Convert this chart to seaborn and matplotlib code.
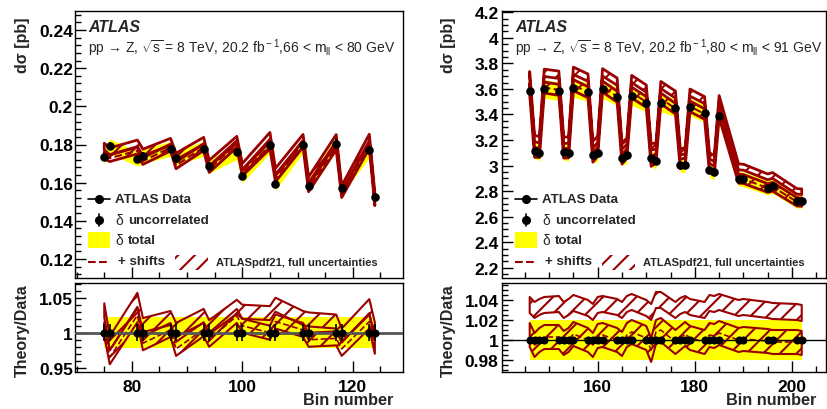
import numpy as np
import matplotlib
matplotlib.use("Agg")
import matplotlib.pyplot as plt
import seaborn as sns
from matplotlib.patches import Rectangle
from matplotlib.ticker import MultipleLocator, FuncFormatter

# ---- left panel: 66 < mll < 80 GeV ----
left_bins = [75, 76, 81, 82, 87, 88, 93, 94, 99, 100, 105, 106, 111, 112, 117, 118, 123, 124]
left_xsec = [0.1734, 0.1791, 0.1725, 0.1739, 0.1777, 0.1730, 0.1777, 0.1687, 0.1760,
             0.1635, 0.1795, 0.1595, 0.1797, 0.1584, 0.1805, 0.1574, 0.1769, 0.1525]
left_r_nom = [1.032, 0.985, 1.047, 1.011, 1.021, 1.004, 1.024, 1.008, 1.037,
              1.030, 1.028, 1.040, 1.021, 1.019, 1.016, 0.996, 1.038, 1.005]
left_r_shift = [1.005, 0.965, 1.025, 0.985, 1.004, 0.977, 1.005, 0.990, 1.024,
                1.010, 1.000, 1.016, 1.004, 0.990, 0.992, 0.977, 1.016, 0.980]
left_unc_tot = 0.022
left_unc_uncor = 0.012
left_th_unc = [0.010, 0.010]

# ---- right panel: 80 < mll < 91 GeV ----
right_bins = [146, 147, 148, 149, 152, 153, 154, 155, 158, 159, 160, 161, 164, 165, 166, 167,
              170, 171, 172, 173, 176, 177, 178, 179, 182, 183, 184, 185, 189, 190, 195, 196, 201, 202]
right_xsec = [3.582, 3.118, 3.100, 3.600, 3.582, 3.105, 3.097, 3.608, 3.574, 3.079, 3.097, 3.600,
              3.540, 3.061, 3.079, 3.543, 3.491, 3.061, 3.032, 3.491, 3.452, 3.006, 3.006, 3.457,
              3.410, 2.967, 2.949, 3.392, 2.897, 2.892, 2.827, 2.840, 2.722, 2.722]
right_r_nom = [1.035, 1.030, 1.033, 1.035, 1.036, 1.030, 1.033, 1.037, 1.032, 1.028, 1.035, 1.036,
               1.033, 1.030, 1.036, 1.038, 1.032, 1.028, 1.040, 1.040, 1.030, 1.034, 1.036, 1.033,
               1.030, 1.037, 1.036, 1.038, 1.032, 1.033, 1.030, 1.029, 1.028, 1.027]
right_r_shift = [1.005, 0.995, 1.000, 1.003, 1.003, 0.997, 1.000, 1.006, 1.000, 0.995, 1.004, 1.005,
                 1.000, 0.996, 1.005, 1.008, 1.002, 0.990, 1.008, 1.010, 0.998, 1.002, 1.006, 1.002,
                 0.998, 1.005, 1.004, 1.007, 1.000, 1.001, 0.999, 0.998, 0.998, 0.997]
right_unc_tot = 0.020
right_unc_uncor = 0.003
right_th_unc = [0.008, 0.012]

DARKRED = "#990000"
W, H = 827, 410

sns.set_theme(style="ticks")
plt.rcParams["font.family"] = ["Liberation Sans", "DejaVu Sans"]
plt.rcParams["mathtext.fontset"] = "custom"
plt.rcParams["mathtext.rm"] = "Liberation Sans"
plt.rcParams["mathtext.it"] = "Liberation Sans:italic"
plt.rcParams["hatch.linewidth"] = 1.5
plt.rcParams["hatch.color"] = DARKRED
plt.rcParams["axes.edgecolor"] = "black"
plt.rcParams["xtick.color"] = "black"
plt.rcParams["ytick.color"] = "black"


def box(x0, y0, x1, y1):
    return [x0 / W, 1 - y1 / H, (x1 - x0) / W, (y1 - y0) / H]


def style_axis(ax, xlim, ylim, ymajor, yminor, label_x, ypad):
    ax.set_xlim(*xlim)
    ax.set_ylim(*ylim)
    ax.xaxis.set_major_locator(MultipleLocator(20))
    ax.xaxis.set_minor_locator(MultipleLocator(5))
    ax.yaxis.set_major_locator(MultipleLocator(ymajor))
    ax.yaxis.set_minor_locator(MultipleLocator(yminor))
    ax.yaxis.set_major_formatter(FuncFormatter(lambda v, p: f"{round(v, 4):g}"))
    ax.tick_params(which="both", direction="in", top=False, right=False, width=1)
    ax.tick_params(which="major", length=8)
    ax.tick_params(which="minor", length=4)
    ax.tick_params(axis="y", pad=ypad, labelsize=12.5)
    ax.tick_params(axis="x", pad=5, labelsize=12.5, labelbottom=label_x)
    for lab in ax.get_yticklabels() + ax.get_xticklabels():
        lab.set_fontweight("bold")
    for s in ax.spines.values():
        s.set_linewidth(1)
        s.set_color("black")
    ax.set_xlabel("")
    ax.set_ylabel("")


def draw_panel(main_box, ratio_box, bins, xsec, r_nom, r_shift, tot, uncor, th_unc,
               xlim, ylim, ymajor, yminor, rlim, rmajor, rminor, ypad, one_style):
    bins = np.array(bins, dtype=float)
    xsec = np.array(xsec)
    r_nom = np.array(r_nom)
    r_shift = np.array(r_shift)

    ax = fig.add_axes(box(*main_box))
    ax.fill_between(bins, xsec * (1 - tot), xsec * (1 + tot), color="#ffff00", lw=0, zorder=1)
    for r, hw in zip([r_nom, r_shift], th_unc):
        ax.fill_between(bins, xsec * (r - hw), xsec * (r + hw), facecolor="none",
                        edgecolor=DARKRED, hatch="//", lw=2, zorder=2)
    ax.plot(bins, xsec * r_shift, color=DARKRED, ls="--", lw=1.5, zorder=3)
    ax.errorbar(bins, xsec, yerr=xsec * uncor, fmt="none", ecolor="black", elinewidth=1.5, zorder=4)
    sns.scatterplot(x=bins, y=xsec, ax=ax, color="black", s=38, edgecolor="black",
                    linewidth=0, zorder=5, legend=False)
    style_axis(ax, xlim, ylim, ymajor, yminor, False, ypad)

    rx = fig.add_axes(box(*ratio_box))
    rx.fill_between(bins, 1 - tot, 1 + tot, color="#ffff00", lw=0, zorder=1)
    for r, hw in zip([r_nom, r_shift], th_unc):
        rx.fill_between(bins, r - hw, r + hw, facecolor="none",
                        edgecolor=DARKRED, hatch="//", lw=1.5, zorder=2)
    rx.plot(bins, r_shift, color=DARKRED, ls="--", lw=1.2, zorder=3)
    rx.axhline(1, zorder=4, **one_style)
    rx.errorbar(bins, np.ones_like(bins), yerr=uncor, xerr=0.5, fmt="none",
                ecolor="black", elinewidth=1.2, zorder=4)
    sns.scatterplot(x=bins, y=np.ones_like(bins), ax=rx, color="black", s=34,
                    edgecolor="black", linewidth=0, zorder=5, legend=False)
    style_axis(rx, xlim, rlim, rmajor, rminor, True, ypad)
    return ax, rx


fig = plt.figure(figsize=(W / 100, H / 100), dpi=100)

draw_panel((75, 12, 403, 279), (75, 284, 403, 373), left_bins, left_xsec, left_r_nom, left_r_shift,
           left_unc_tot, left_unc_uncor, left_th_unc, (69.7, 129.1), (0.11, 0.25), 0.02, 0.004,
           (0.944, 1.071), 0.05, 0.01, 1.5, dict(color="#555555", lw=2))
draw_panel((502, 12, 826, 279), (502, 284, 826, 373), right_bins, right_xsec, right_r_nom, right_r_shift,
           right_unc_tot, right_unc_uncor, right_th_unc, (140.3, 207.0), (2.12, 4.21), 0.2, 0.05,
           (0.968, 1.057), 0.02, 0.005, 2.5, dict(color="black", lw=1))

# overlay in pixel coordinates for texts and legend
ov = fig.add_axes([0, 0, 1, 1])
ov.set_xlim(0, W)
ov.set_ylim(H, 0)
ov.axis("off")
ov.patch.set_alpha(0)

panels = [
    dict(x0=88, ylab_x=22, blab_x=348, mass="66 < m$_{\\rm ll}$ < 80 GeV"),
    dict(x0=515, ylab_x=448, blab_x=771, mass="80 < m$_{\\rm ll}$ < 91 GeV"),
]
for p in panels:
    x0 = p["x0"]
    ov.text(x0, 27, "ATLAS", fontsize=11.5, fontweight="bold", style="italic", va="center")
    ov.text(x0, 48, "pp → Z, $\\sqrt{\\rm s}$ = 8 TeV, 20.2 fb$^{\\rm -1}$," + p["mass"],
            fontsize=10, va="center")
    ov.text(p["ylab_x"], 45, "dσ [pb]", fontsize=11.5, fontweight="bold", rotation=90,
            ha="center", va="center")
    ov.text(p["ylab_x"], 331, "Theory/Data", fontsize=11.5, fontweight="bold", rotation=90,
            ha="center", va="center")
    ov.text(p["blab_x"], 401, "Bin number", fontsize=11.7, fontweight="bold",
            ha="center", va="center")

    # legend
    ov.plot([x0, x0 + 22], [200, 200], color="black", lw=1.2)
    ov.plot([x0 + 11], [200], "o", color="black", ms=5.5)
    ov.text(x0 + 27, 200, "ATLAS Data", fontsize=9.6, fontweight="bold", va="center")
    ov.plot([x0 + 11, x0 + 11], [215, 227], color="black", lw=1.2)
    ov.plot([x0 + 11], [221], "o", color="black", ms=5.5)
    ov.text(x0 + 27, 221, "δ", fontsize=10, va="center")
    ov.text(x0 + 40, 221, "uncorrelated", fontsize=9.6, fontweight="bold", va="center")
    ov.add_patch(Rectangle((x0, 233), 22, 16, color="#ffff00", lw=0))
    ov.text(x0 + 27, 241, "δ", fontsize=10, va="center")
    ov.text(x0 + 40, 241, "total", fontsize=9.6, fontweight="bold", va="center")
    ov.plot([x0, x0 + 22], [263, 263], color=DARKRED, ls="--", lw=1.5)
    ov.text(x0 + 30, 262, "+ shifts", fontsize=9.6, fontweight="bold", va="center")
    ov.add_patch(Rectangle((x0 + 87, 256), 33, 15, facecolor="none", edgecolor=DARKRED,
                           hatch="//", lw=0))
    ov.text(x0 + 128, 263, "ATLASpdf21, full uncertainties", fontsize=8, fontweight="bold",
            va="center")

fig.savefig("out.png", dpi=100)
